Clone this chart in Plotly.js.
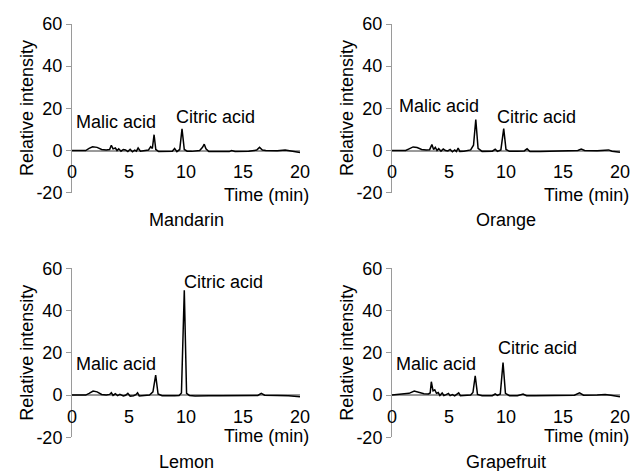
<!DOCTYPE html>
<html>
<head>
<meta charset="utf-8">
<script src="https://cdn.plot.ly/plotly-3.0.1.min.js"></script>
<style>html,body{margin:0;padding:0;background:#fff;}#chart{width:643px;height:471px;}</style>
</head>
<body>
<div id="chart"></div>
<script>
// Sample names (panel titles)
const fruits = ["Mandarin", "Orange", "Lemon", "Grapefruit"];

// Retention time (min) and relative intensity for each chromatogram
const mandarinTime = [0,1.2,1.5,1.8,2.2,2.6,3.0,3.3,3.45,3.6,3.8,3.95,4.1,4.3,4.5,4.7,4.9,5.1,5.3,5.5,5.65,5.8,6.0,6.3,6.7,6.9,7.05,7.2,7.35,7.6,8.0,8.8,9.0,9.2,9.45,9.65,9.85,10.1,10.5,11.2,11.45,11.6,11.75,12.0,13.0,13.8,14.0,14.3,15.5,16.2,16.45,16.7,17.0,18.0,18.7,19.2,20];
const mandarinIntensity = [0,0,1.0,1.8,1.5,0.5,0.3,0.5,2.5,0.8,1.2,0,0.8,-0.3,0.5,0.3,-0.5,0.6,-0.6,0.2,-0.3,1.2,-0.3,-0.2,0.2,1.8,1.0,7.5,0.5,-0.5,-0.5,-0.3,1.0,-0.5,0.5,10.3,0.5,-0.3,-0.4,0,1.5,3.0,0.8,-0.5,-0.5,-0.5,0,-0.5,-0.3,0.2,1.5,0.2,0,-0.1,0.3,-0.2,-1.0];

const orangeTime = [0,1.2,1.5,1.85,2.2,2.6,3.0,3.3,3.5,3.65,3.8,3.95,4.1,4.3,4.5,4.7,4.9,5.1,5.3,5.5,5.65,5.8,5.95,6.3,6.9,7.15,7.35,7.55,7.9,8.8,9.05,9.25,9.55,9.8,10.0,10.3,11.0,11.6,11.85,12.1,13.0,14.0,15.5,16.3,16.6,16.9,18.0,18.7,19.0,19.3,20];
const orangeIntensity = [0,0,0.8,1.7,1.4,0.5,0.3,0.4,2.8,0.5,1.5,0,0.9,-0.3,0.7,0,-0.2,0.5,-0.6,0.3,-0.5,1.2,-0.4,-0.3,0.3,2.5,14.7,1.0,-0.4,-0.3,0.6,-0.4,0.3,10.4,0.5,-0.4,-0.4,-0.2,0.8,-0.5,-0.5,-0.4,-0.3,0,0.7,0,-0.1,0,0.3,-0.3,-0.8];

const lemonTime = [0,1.2,1.5,1.85,2.2,2.6,3.0,3.3,3.45,3.6,3.8,4.0,4.2,4.5,4.7,4.9,5.1,5.4,5.6,5.75,5.9,6.3,6.8,7.1,7.34,7.55,7.9,9.0,9.4,9.6,9.85,10.05,10.3,10.8,11.5,12.0,13.0,15.0,16.3,16.6,16.9,18.0,19.0,20];
const lemonIntensity = [0,0,0.8,1.9,1.5,0.3,0,0.3,1.1,-0.2,0.6,-0.3,0.3,-0.4,-0.1,0.8,-0.5,-0.3,0.2,1.1,-0.4,-0.3,0,1.5,9.4,0.5,-0.3,-0.3,-0.2,1.0,49.6,0.8,-0.2,-0.5,-0.2,-0.3,-0.3,-0.3,-0.2,0.8,-0.1,-0.2,-0.3,-0.8];

const grapefruitTime = [0,1.0,1.5,1.95,2.4,2.8,3.2,3.35,3.45,3.6,3.75,3.9,4.05,4.2,4.4,4.55,4.75,4.95,5.1,5.3,5.5,5.65,5.85,6.0,6.4,6.9,7.1,7.3,7.5,7.9,8.8,9.05,9.25,9.5,9.74,9.95,10.3,11.0,11.5,11.8,12.5,14,16.0,16.45,16.8,18,18.7,19.2,20];
const grapefruitIntensity = [0,0.3,0.8,1.9,1.2,0.6,0.5,1.0,6.3,2.0,2.5,0.8,1.2,-0.2,1.0,-0.2,0.2,0.8,-0.3,0.2,-0.4,0.2,1.0,-0.3,-0.2,0,1.2,9.1,0.3,-0.3,-0.3,0.5,-0.2,0.5,15.4,0.8,-0.3,-0.3,0.5,-0.3,-0.3,-0.3,-0.1,1.0,-0.1,0,0.3,-0.1,-0.8];

// Axis ticks
const xTicks = [0, 5, 10, 15, 20];
const yTicks = [-20, 0, 20, 40, 60];
const yTickText = ["-20", "0", "20", "40", "60"];

// Text labels
const peakLabels = ["Malic acid", "Citric acid"];
const xTitle = "Time (min)";
const yTitle = "Relative intensity";

const times = [mandarinTime, orangeTime, lemonTime, grapefruitTime];
const intens = [mandarinIntensity, orangeIntensity, lemonIntensity, grapefruitIntensity];

const FONT = "Liberation Sans, Arial, sans-serif";
const GRAY = "#9a9a9a";

const xDomains = [[0.11198,0.46656],[0.60964,0.96423],[0.11198,0.46656],[0.60964,0.96423]];
const yDomains = [[0.59087,0.94904],[0.59087,0.94904],[0.07155,0.43036],[0.07155,0.43036]];
const xPos = [0.68047,0.68047,0.16136,0.16136];

// label positions (layout only)
const malicPos = [[3.86,13.3],[4.1,21],[3.86,14.7],[3.86,14.7]];
const citricPos = [[12.6,15.7],[12.7,15.7],[13.3,53.5],[12.8,22.2]];
const timeRight = [0.483, 0.981, 0.483, 0.981];
const timeYp = [0.586, 0.586, 0.0743, 0.0743];
const titleX = [0.2893, 0.7869, 0.2893, 0.7869];
const titleYp = [0.5329, 0.5329, 0.0191, 0.0191];
const yTitleX = [0.042, 0.5397, 0.042, 0.5397];
const yTitleY = [0.7707, 0.7707, 0.2510, 0.2510];

const traces = [];
const layout = {
  width: 643, height: 471,
  margin: {l:0, r:0, t:0, b:0},
  paper_bgcolor: "#fff", plot_bgcolor: "rgba(0,0,0,0)",
  showlegend: false,
  font: {family: FONT, size: 18, color: "#000"},
  annotations: []
};

for (let i = 0; i < 4; i++) {
  const s = i === 0 ? "" : String(i + 1);
  traces.push({
    x: times[i], y: intens[i], type: "scatter", mode: "lines",
    xaxis: "x" + s, yaxis: "y" + s,
    line: {color: "#000", width: 1.5}, hoverinfo: "skip"
  });
  layout["xaxis" + s] = {
    domain: xDomains[i], range: [0, 20], anchor: "free", position: xPos[i],
    showline: false, ticks: "outside", ticklen: 5, tickcolor: "rgba(0,0,0,0)",
    tickvals: xTicks, showgrid: false, zeroline: false,
    tickfont: {family: FONT, size: 18, color: "#000"}
  };
  layout["yaxis" + s] = {
    domain: yDomains[i], range: [-20, 60], anchor: "x" + s,
    tickvals: yTicks, ticktext: yTickText,
    ticks: "outside", ticklen: 5, tickcolor: GRAY, tickwidth: 1,
    showline: true, linecolor: GRAY, linewidth: 1,
    showgrid: false, zeroline: true, zerolinecolor: GRAY, zerolinewidth: 2,
    tickfont: {family: FONT, size: 18, color: "#000"}
  };
  const xr = "x" + s, yr = "y" + s;
  layout.annotations.push(
    {xref: xr, yref: yr, x: malicPos[i][0], y: malicPos[i][1], text: peakLabels[0], showarrow: false, xanchor: "center", yanchor: "middle"},
    {xref: xr, yref: yr, x: citricPos[i][0], y: citricPos[i][1], text: peakLabels[1], showarrow: false, xanchor: "center", yanchor: "middle"},
    {xref: "paper", yref: "paper", x: timeRight[i], y: timeYp[i], text: xTitle, showarrow: false, xanchor: "right", yanchor: "middle"},
    {xref: "paper", yref: "paper", x: titleX[i], y: titleYp[i], text: fruits[i], showarrow: false, xanchor: "center", yanchor: "middle"},
    {xref: "paper", yref: "paper", x: yTitleX[i], y: yTitleY[i], text: yTitle, textangle: -90, showarrow: false, xanchor: "center", yanchor: "middle"}
  );
}

Plotly.newPlot("chart", traces, layout, {displayModeBar: false, staticPlot: true});
</script>
</body>
</html>
